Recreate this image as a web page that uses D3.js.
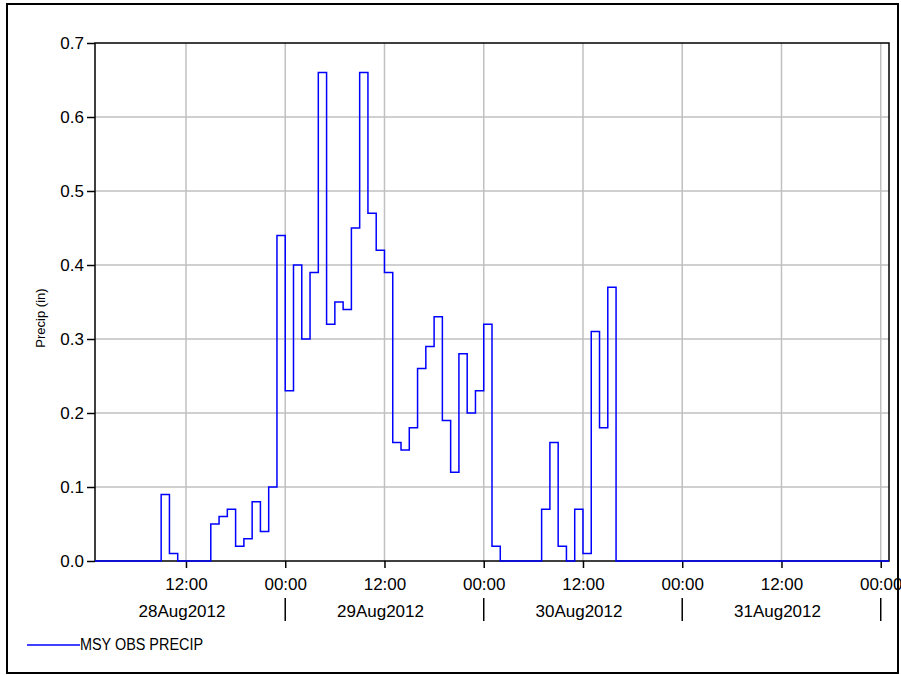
<!DOCTYPE html>
<html><head><meta charset="utf-8">
<script src="https://cdn.jsdelivr.net/npm/d3@7"></script>
<style>
body{margin:0;background:#fff}
svg{display:block}
text{font-family:"Liberation Sans",Arial,sans-serif;fill:#000}
</style>
</head><body>
<svg id="c" width="901" height="675"></svg>
<script>
// ---------------- data ----------------
const seriesName = "MSY OBS PRECIP";
const yTitle = "Precip (in)";
const firstHour = "2012-08-28T01:00:00Z";   // start of first hourly period
const lastHour  = "2012-09-01T01:00:00Z";   // end of last hourly period
// hourly precipitation (in), one value per hour, period starting at listed hour
const precip28Aug = [0,0,0,0,0,0,0,0,0.09,0.01,0,0,0,0,0.05,0.06,0.07,0.02,0.03,0.08,0.04,0.10,0.44]; // 01:00–23:00
const precip29Aug = [0.23,0.40,0.30,0.39,0.66,0.32,0.35,0.34,0.45,0.66,0.47,0.42,0.39,0.16,0.15,0.18,0.26,0.29,0.33,0.19,0.12,0.28,0.20,0.23];
const precip30Aug = [0.32,0.02,0,0,0,0,0,0.07,0.16,0.02,0,0.07,0.01,0.31,0.18,0.37,0,0,0,0,0,0,0,0];
const precip31Aug = [0,0,0,0,0,0,0,0,0,0,0,0,0,0,0,0,0,0,0,0,0,0,0,0];
const precip01Sep = [0];
const yTicks = [0.0,0.1,0.2,0.3,0.4,0.5,0.6,0.7];
const dayLabels = ["28Aug2012","29Aug2012","30Aug2012","31Aug2012"];
const dayStarts = ["2012-08-28T00:00:00Z","2012-08-29T00:00:00Z","2012-08-30T00:00:00Z","2012-08-31T00:00:00Z","2012-09-01T00:00:00Z"];

// ---------------- build ----------------
const values = [].concat(precip28Aug, precip29Aug, precip30Aug, precip31Aug, precip01Sep);
const t0 = new Date(firstHour), t1 = new Date(lastHour);
const pts = values.map((v,i)=>({t:d3.utcHour.offset(t0,i), v}));
pts.push({t:t1, v:values[values.length-1]});

const L=95, R=889, T=43, B=561;
const x = d3.scaleUtc().domain([t0,t1]).range([L,R]);
const y = d3.scaleLinear().domain([0,0.7]).range([B,T]);

const svg = d3.select("#c");

const xTicks = d3.utcHour.every(12).range(d3.utcHour.offset(t0,1), t1);
// grid
svg.append("g").selectAll("line").data(yTicks.filter(d=>d>0 && d<0.7)).join("line")
  .attr("x1",L).attr("x2",R).attr("y1",d=>y(d)).attr("y2",d=>y(d))
  .attr("stroke","#c0c0c0").attr("stroke-width",1.5);
svg.append("g").selectAll("line").data(xTicks).join("line")
  .attr("x1",d=>x(d)).attr("x2",d=>x(d)).attr("y1",T).attr("y2",B)
  .attr("stroke","#c0c0c0").attr("stroke-width",1.5);

// axes
const ya = svg.append("g").attr("transform",`translate(${L},0)`)
  .call(d3.axisLeft(y).tickValues(yTicks).tickSize(8).tickPadding(3).tickFormat(d3.format(".1f")));
ya.select(".domain").remove();
ya.selectAll("text").style("font-size","17px").style("font-family","'Liberation Sans',Arial,sans-serif");
ya.selectAll("line").attr("stroke-width",1.5);

const xa = svg.append("g").attr("transform",`translate(0,${B})`)
  .call(d3.axisBottom(x).tickValues(xTicks).tickSize(7).tickPadding(10).tickFormat(d3.utcFormat("%H:%M")));
xa.select(".domain").remove();
xa.selectAll("text").style("font-size","17px").style("font-family","'Liberation Sans',Arial,sans-serif");
xa.selectAll("line").attr("stroke-width",1.5);

// day separators and labels
svg.append("g").selectAll("line").data(dayStarts.slice(1).map(d=>new Date(d))).join("line")
  .attr("x1",d=>x(d)).attr("x2",d=>x(d)).attr("y1",598).attr("y2",621)
  .attr("stroke","#000").attr("stroke-width",1.5);
svg.append("g").selectAll("text").data(dayLabels).join("text")
  .attr("x",(d,i)=>x(d3.utcHour.offset(new Date(dayStarts[i]),12))-4)
  .attr("y",617).attr("text-anchor","middle").style("font-size","17px").text(d=>d);

// plot border
svg.append("rect").attr("x",L).attr("y",T).attr("width",R-L).attr("height",B-T)
  .attr("fill","none").attr("stroke","#000").attr("stroke-width",1.5);

// series
const line = d3.line().x(d=>x(d.t)).y(d=>y(d.v)).curve(d3.curveStepAfter);
svg.append("path").datum(pts).attr("d",line).attr("fill","none")
  .attr("stroke","#0000ff").attr("stroke-width",1.5);

// y title
svg.append("text").attr("transform","translate(45,318) rotate(-90)")
  .attr("text-anchor","middle").style("font-size","13px").text(yTitle);

// legend
svg.append("line").attr("x1",27).attr("x2",80).attr("y1",645).attr("y2",645)
  .attr("stroke","#0000ff").attr("stroke-width",1.5);
svg.append("text").attr("x",80).attr("y",650).style("font-size","16px")
  .attr("textLength",123).attr("lengthAdjust","spacingAndGlyphs").text(seriesName);

// outer frame (drawn last, over the edge label as in the original)
svg.append("rect").attr("x",7).attr("y",4).attr("width",891).attr("height",669)
  .attr("fill","none").attr("stroke","#000").attr("stroke-width",2);
</script>
</body></html>
